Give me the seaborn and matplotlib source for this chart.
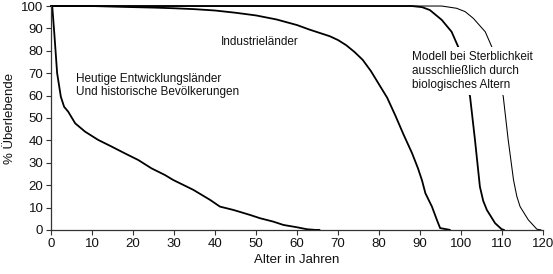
import numpy as np
import pandas as pd
import matplotlib
matplotlib.use("Agg")
import matplotlib.pyplot as plt
import seaborn as sns

# Heutige Entwicklungslaender / historische Bevoelkerungen
dev_age = [0, 0.3, 0.8, 1.5, 2.4, 3.2, 4.2, 5.9, 8.3, 11.5, 14.8, 18, 21.3, 24.5,
           27.8, 29.8, 34.7, 38.8, 41.2, 44.5, 48.5, 51, 54.2, 56.7, 59.9, 62.4, 64.4, 65.5]
dev_surv = [100, 100, 88, 70, 59.5, 55, 52.8, 47.6, 43.9, 40.2, 37.2, 34.2, 31.2, 27.5,
            24.5, 22.3, 17.9, 13.4, 10.4, 8.9, 6.7, 5.2, 3.7, 2.2, 1.2, 0.3, 0, 0]

# Industrielaender
ind_age = [0, 10, 18, 25, 30, 35, 40, 45, 50, 55, 60, 63, 65, 68, 70, 72, 74, 76, 78,
           80, 82, 84, 86, 88, 89.5, 90.5, 91.3, 92.9, 94.1, 94.9, 97.3]
ind_surv = [100, 100, 99.6, 99.3, 99, 98.6, 98, 97, 95.8, 94, 91.5, 89.5, 88.3, 86.5,
            84.8, 82.5, 79.5, 76, 71, 65, 59, 51, 42.5, 34.5, 27.5, 22, 16.4, 10.4, 4.5,
            0.8, 0]

# Modell (biologisches Altern), dicke Linie
mod1_age = [0, 88, 90.5, 92.4, 95.3, 97.7, 99.3, 100.8, 102.2, 103.4, 104.6, 105.4,
            106.3, 108.3, 109.9, 110.5]
mod1_surv = [100, 100, 99.5, 98.2, 93.8, 88.5, 81.8, 71, 59.5, 40.2, 19.3, 13, 8.9, 3,
             0.3, 0]

# Modell, duenne Linie
mod2_age = [0, 95.3, 98.9, 101, 103, 105.9, 107.5, 109, 110.3, 111.5, 112.8, 113.6,
            114.4, 116.4, 118.5, 119.5]
mod2_surv = [100, 100, 99, 97.5, 94.5, 88.5, 81.8, 71, 59.5, 40.2, 22.3, 15, 10.4, 4.5,
             0.3, 0]

x_ticks = list(range(0, 121, 10))
y_ticks = list(range(0, 101, 10))

sns.set_theme(style="ticks")
plt.rcParams["font.family"] = ["Liberation Sans", "DejaVu Sans"]

fig = plt.figure(figsize=(5.53, 2.74), dpi=100)
ax = fig.add_axes([0.0922, 0.161, 0.8898, 0.817])

series = [
    (dev_age, dev_surv, 1.3),
    (ind_age, ind_surv, 1.3),
    (mod1_age, mod1_surv, 1.3),
    (mod2_age, mod2_surv, 0.75),
]
for xs, ys, lw in series:
    df = pd.DataFrame({"Alter": xs, "Surv": ys})
    sns.lineplot(data=df, x="Alter", y="Surv", ax=ax, color="black",
                 linewidth=lw, sort=False, estimator=None, clip_on=False)

ax.set_xlim(0, 120)
ax.set_ylim(0, 100)
ax.set_xticks(x_ticks)
ax.set_yticks(y_ticks)
ax.tick_params(labelsize=9.5, length=3.5, width=0.8, color="#333333", pad=2,
               labelcolor="#111111")
for s in ["top", "right"]:
    ax.spines[s].set_visible(False)
for s in ["left", "bottom"]:
    ax.spines[s].set_color("#333333")
    ax.spines[s].set_linewidth(0.9)

ax.set_xlabel("Alter in Jahren", fontsize=9.5, labelpad=3, color="#111111")
ax.set_ylabel("% Überlebende", fontsize=9.5, labelpad=4, color="#111111")

ax.text(6.1, 64.5, "Heutige Entwicklungsländer\nUnd historische Bevölkerungen",
        fontsize=8.5, ha="left", va="center", color="#111111", linespacing=1.2)
ax.text(41.5, 84, "Industrieländer", fontsize=8.5, ha="left", va="center",
        color="#111111")
ax.text(88, 71, "Modell bei Sterblichkeit\nausschließlich durch\nbiologisches Altern",
        fontsize=8.5, ha="left", va="center", color="#111111", linespacing=1.2,
        bbox=dict(facecolor="white", edgecolor="none", pad=3), zorder=5)

fig.savefig("out.png", dpi=100)
